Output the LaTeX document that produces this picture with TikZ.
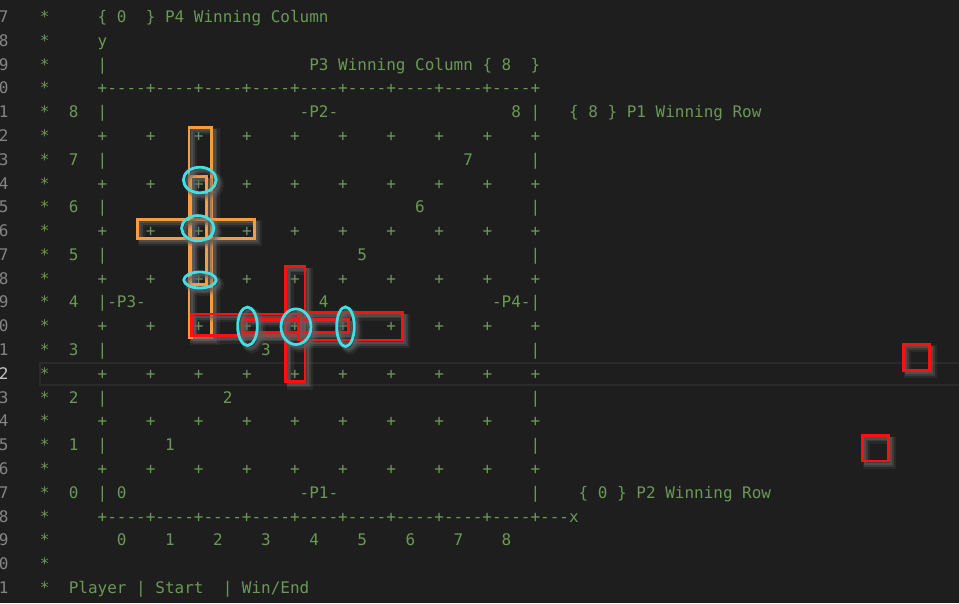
\documentclass[tikz,border=0pt]{standalone}
\usepackage{fontspec}
\setmonofont{DejaVu Sans Mono}
\frenchspacing
\definecolor{bgc}{HTML}{1E1E1E}
\definecolor{codegreen}{HTML}{6A9955}
\definecolor{lnc}{HTML}{858585}
\definecolor{lncur}{HTML}{C6C6C6}
\definecolor{curline}{HTML}{2A2A2A}
\definecolor{orng}{HTML}{F99B3F}
\definecolor{cyn}{HTML}{40E0E8}
\definecolor{redc}{HTML}{FF1010}
\definecolor{shadc}{HTML}{606060}
\newcommand\T[3]{\node[txt] at ({97.7+9.62*(#2)},{22.5+23.79*((#1)-7)}) {#3};}
\newcommand\Shp[2]{%
  \draw[shadc, line width=7pt, opacity=0.18, shift={(4.5,4.5)}] #2;
  \draw[shadc, line width=4.5pt, opacity=0.35, shift={(3.5,3.5)}] #2;
  \draw[shadc, line width=2.5pt, opacity=0.5, shift={(2.8,2.8)}] #2;
  \draw[#1] #2;}
\begin{document}
\begin{tikzpicture}[x=1pt,y=-1pt,
  txt/.style={anchor=base west, inner sep=0pt, outer sep=0pt,
    font=\ttfamily\fontsize{15.98}{18}\selectfont, text=codegreen},
  lnum/.style={anchor=base east, inner sep=0pt, outer sep=0pt,
    font=\ttfamily\fontsize{15.98}{18}\selectfont, text=lnc},
  orect/.style={draw=orng, line width=2.6pt},
  rrect/.style={draw=redc, line width=2.8pt},
  cell/.style={draw=cyn, line width=2.8pt}]
\fill[bgc] (0,0) rectangle (959,603);
\useasboundingbox (0,0) rectangle (959,603);
% current line highlight
\draw[curline, line width=2pt] (40,362.8) rectangle (970,385.2);
% line numbers
\foreach \n in {7,...,31}{%
  \pgfmathtruncatemacro\dd{mod(\n,10)}%
  \ifnum\n=22\relax
    \node[lnum, text=lncur] at (8.5,{22.5+23.79*(\n-7)}) {\dd};
  \else
    \node[lnum] at (8.5,{22.5+23.79*(\n-7)}) {\dd};
  \fi}
% comment stars
\foreach \n in {7,...,31}{\T{\n}{-6}{*}}
% text
\T{7}{0}{\{~0~~\}~P4~Winning~Column}
\T{8}{0}{y}
\T{9}{0}{|}
\T{9}{22}{P3~Winning~Column~\{~8~~\}}
\T{10}{0}{+----+----+----+----+----+----+----+----+----+}
\T{11}{-3}{8}\T{11}{0}{|}\T{11}{21}{-P2-}\T{11}{43}{8}\T{11}{45}{|}
\T{11}{49}{\{~8~\}~P1~Winning~Row}
\foreach \r in {12,14,...,26}{\foreach \c in {0,5,...,45}{\T{\r}{\c}{+}}}
\T{13}{-3}{7}\T{13}{0}{|}\T{13}{38}{7}\T{13}{45}{|}
\T{15}{-3}{6}\T{15}{0}{|}\T{15}{33}{6}\T{15}{45}{|}
\T{17}{-3}{5}\T{17}{0}{|}\T{17}{27}{5}\T{17}{45}{|}
\T{19}{-3}{4}\T{19}{0}{|-P3-}\T{19}{23}{4}\T{19}{41}{-P4-|}
\T{21}{-3}{3}\T{21}{0}{|}\T{21}{17}{3}\T{21}{45}{|}
\T{23}{-3}{2}\T{23}{0}{|}\T{23}{13}{2}\T{23}{45}{|}
\T{25}{-3}{1}\T{25}{0}{|}\T{25}{7}{1}\T{25}{45}{|}
\T{27}{-3}{0}\T{27}{0}{|}\T{27}{2}{0}\T{27}{21}{-P1-}\T{27}{45}{|}
\T{27}{50}{\{~0~\}~P2~Winning~Row}
\T{28}{0}{+----+----+----+----+----+----+----+----+----+---x}
\foreach \k in {0,...,8}{\T{29}{2+5*\k}{\k}}
\T{31}{-3}{Player~|~Start~~|~Win/End}
% orange marks
\Shp{orect}{(189,127.3) rectangle (211.5,337.3)}
\Shp{orect}{(190.8,176.7) rectangle (206.3,284.5)}
\Shp{orect}{(137.3,219.3) rectangle (254.3,238.3)}
% red marks
\Shp{rrect}{(285.7,266.7) rectangle (305,381.7)}
\Shp{rrect}{(191.7,314) rectangle (300.7,335.7)}
\Shp{rrect}{(242.3,319.3) rectangle (348.3,332.7)}
\Shp{rrect}{(298.3,312.5) rectangle (402.3,340)}
\Shp{rrect}{(903.3,344.3) rectangle (929.3,370.3)}
\Shp{rrect}{(862.3,435.7) rectangle (888.3,461)}
% cyan ellipses
\Shp{cell}{(199.8,180) ellipse [x radius=16.4, y radius=12.8]}
\Shp{cell}{(197.8,228.2) ellipse [x radius=16.2, y radius=12.6]}
\Shp{cell}{(200,280) ellipse [x radius=16.2, y radius=8]}
\Shp{cell}{(247.5,326.3) ellipse [x radius=9.8, y radius=19.2]}
\Shp{cell}{(296,326.7) ellipse [x radius=15, y radius=17.8]}
\Shp{cell}{(345.5,326.7) ellipse [x radius=8.8, y radius=19.8]}
\end{tikzpicture}
\end{document}
